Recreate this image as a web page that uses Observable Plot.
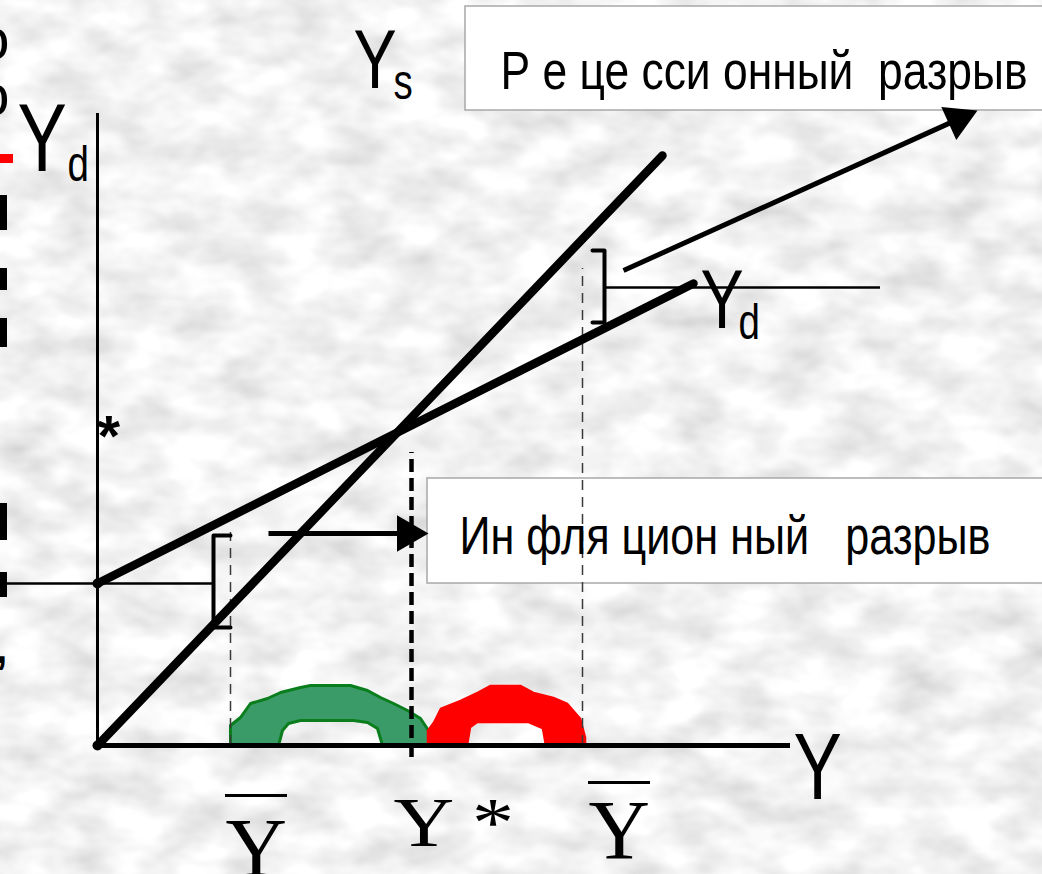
<!DOCTYPE html>
<html>
<head>
<meta charset="utf-8">
<script src="https://cdn.jsdelivr.net/npm/d3@7"></script>
<script src="https://cdn.jsdelivr.net/npm/@observablehq/plot@0.6"></script>
<style>
  html, body { margin: 0; padding: 0; background: #e4e4e4; overflow: hidden; }
  #chart svg { display: block; }
</style>
</head>
<body>
<div id="chart"></div>
<script>
// ---- Diagram data (economic coordinates: Y = output, E = expenditure) ----
const ysLine = [{Y: 0, E: 0}, {Y: 565, E: 590}];
const ydLine = [{Y: 0, E: 162}, {Y: 596, E: 462}];
const intercepts = [{Y: 0, E: 0}, {Y: 0, E: 162}];

const yBarLow = 133, yStar = 314, yBarHigh = 485;
const thinGuides = [{Y: yBarLow, E1: 0, E2: 213}, {Y: yBarHigh, E1: 0, E2: 477}];
const starGuide = [{Y: yStar, E1: -12, E2: 293}];

const brackets = [
  {id: "infl", Y: 133, E: 210}, {id: "infl", Y: 116, E: 210}, {id: "infl", Y: 116, E: 118}, {id: "infl", Y: 133, E: 118},
  {id: "rec", Y: 495, E: 495}, {id: "rec", Y: 507, E: 495}, {id: "rec", Y: 507, E: 423}, {id: "rec", Y: 495, E: 423}
];
const levelLeft = [{E: 162, Y1: -97, Y2: 116}];
const levelRight = [{E: 458, Y1: 507, Y2: 783}];

const arrows = [
  {name: "inflation", Y1: 171, E1: 212, Y2: 331, E2: 212},
  {name: "recession", Y1: 526, E1: 475, Y2: 880, E2: 635}
];

const boxes = [
  {name: "recession", Y1: 368, Y2: 950, E1: 635, E2: 739},
  {name: "inflation", Y1: 330, Y2: 950, E1: 162, E2: 267}
];
const boxLabels = [
  {name: "recession", text: "Р е це сси онный  разрыв", Y: 403, E: 657},
  {name: "inflation", text: "Ин фля цион ный   разрыв", Y: 362, E: 192}
];

const greenArc = [
  {Y:133,E:0},{Y:133,E:20},{Y:143,E:28},{Y:153,E:42},{Y:170,E:47},{Y:183,E:53},{Y:203,E:58},{Y:213,E:60},
  {Y:253,E:60},{Y:270,E:55},{Y:283,E:48},{Y:296,E:42},{Y:310,E:35},{Y:323,E:27},{Y:331,E:15},{Y:333,E:0},
  {Y:285,E:0},{Y:280,E:17},{Y:270,E:23},{Y:256,E:25},{Y:203,E:25},{Y:191,E:22},{Y:185,E:15},{Y:181,E:0}
];
const redArc = [
  {Y:330,E:0},{Y:330,E:15},{Y:336,E:23},{Y:343,E:37},{Y:363,E:45},{Y:380,E:53},{Y:393,E:60},{Y:423,E:60},
  {Y:436,E:53},{Y:456,E:48},{Y:470,E:42},{Y:483,E:27},{Y:488,E:8},{Y:488,E:0},
  {Y:448,E:0},{Y:445,E:17},{Y:431,E:23},{Y:380,E:23},{Y:373,E:18},{Y:370,E:0}
];

const sansLabels = [
  {text: "Y", Y: 256, E: 658, role: "big"},
  {text: "s", Y: 296, E: 647, role: "sub"},
  {text: "Y", Y: -80, E: 575, role: "huge"},
  {text: "d", Y: -30, E: 565, role: "sub"},
  {text: "Y", Y: 603, E: 418, role: "big"},
  {text: "d", Y: 641, E: 407, role: "sub"},
  {text: "Y", Y: 696, E: -53, role: "axis"}
];
const starMark = [{text: "*", Y: 0, E: 290}];
const serifBars = [
  {text: "Y", Y: 128, E: -131},
  {text: "Y", Y: 491, E: -113}
];
const serifStar = [{text: "Y *", Y: 296, E: -100}];
const overlines = [{E: -50, Y1: 128, Y2: 190}, {E: -37, Y1: 491, Y2: 553}];

// fragments of neighbouring slide text cut by the left edge
const edgeLetters = [{text: "о", E: 687}, {text: "о", E: 631}];
const edgeComma = [{text: ",", E: 83}];
const edgeBlocks = [
  {E1: 582, E2: 591, Y2: -84, c: "red"},
  {E1: 515, E2: 550, Y2: -90, c: "black"},
  {E1: 455, E2: 477, Y2: -90, c: "black"},
  {E1: 398, E2: 427, Y2: -90, c: "black"},
  {E1: 205, E2: 242, Y2: -90, c: "black"},
  {E1: 148, E2: 173, Y2: -90, c: "black"}
];

// ---- styles (kept apart from the data) ----
const fontSizes = {huge: 96, big: 84, sub: 50, axis: 94};
const boxTextWidth = {recession: 527, inflation: 531};
const boxFont = 53;
const SANS = "'Liberation Sans', Arial, sans-serif";
const SERIF = "'Liberation Serif', 'Times New Roman', serif";

// arrowhead placement (equilateral triangle symbol)
const headR = 13.5;
const headSize = Math.PI * headR * headR;
const tipDist = 2 * Math.sqrt(headSize / (3 * Math.sqrt(3)));
const heads = arrows.map(a => {
  const dx = a.Y2 - a.Y1, dy = a.E2 - a.E1, L = Math.hypot(dx, dy);
  return {Y: a.Y2 - dx / L * tipDist, E: a.E2 - dy / L * tipDist, rot: Math.atan2(-dy, dx) * 180 / Math.PI + 90};
});
const shafts = arrows.map(a => {
  const dx = a.Y2 - a.Y1, dy = a.E2 - a.E1, L = Math.hypot(dx, dy);
  return {...a, Y2: a.Y2 - dx / L * tipDist, E2: a.E2 - dy / L * tipDist};
});

const chart = Plot.plot({
  width: 1042,
  height: 874,
  margin: 0,
  style: {background: "#e4e4e4", overflow: "visible"},
  x: {domain: [-97, 945], range: [0, 1042], axis: null},
  y: {domain: [-129, 745], range: [874, 0], axis: null},
  marks: [
    Plot.rect(boxes, {x1: "Y1", x2: "Y2", y1: "E1", y2: "E2", fill: "white", stroke: "#a8a8a8", strokeWidth: 1.5}),
    Plot.rect(edgeBlocks, {x1: -97, x2: "Y2", y1: "E1", y2: "E2", fill: "c"}),
    Plot.line(greenArc, {x: "Y", y: "E", fill: "#3b9b68", stroke: "#0a7d1c", strokeWidth: 3, curve: "linear-closed"}),
    Plot.line(redArc, {x: "Y", y: "E", fill: "#ff0000", stroke: "#ff0000", strokeWidth: 1.5, curve: "linear-closed"}),
    Plot.ruleX(thinGuides, {x: "Y", y1: "E1", y2: "E2", stroke: "#3a3a3a", strokeWidth: 1.5, strokeDasharray: "10,7"}),
    Plot.ruleX(starGuide, {x: "Y", y1: "E1", y2: "E2", stroke: "black", strokeWidth: 4.5, strokeDasharray: "13,6"}),
    Plot.ruleX([0], {y1: 0, y2: 632, stroke: "black", strokeWidth: 3}),
    Plot.ruleY([0], {x1: 0, x2: 693, stroke: "black", strokeWidth: 5}),
    Plot.ruleY(levelLeft, {y: "E", x1: "Y1", x2: "Y2", stroke: "black", strokeWidth: 2.5}),
    Plot.ruleY(levelRight, {y: "E", x1: "Y1", x2: "Y2", stroke: "black", strokeWidth: 2.5}),
    Plot.line(brackets, {x: "Y", y: "E", z: "id", stroke: "black", strokeWidth: 4}),
    Plot.line(ysLine, {x: "Y", y: "E", stroke: "black", strokeWidth: 8.5, strokeLinecap: "round"}),
    Plot.line(ydLine, {x: "Y", y: "E", stroke: "black", strokeWidth: 8.5, strokeLinecap: "round"}),
    Plot.dot(intercepts, {x: "Y", y: "E", r: 5, fill: "black"}),
    Plot.link(shafts, {x1: "Y1", y1: "E1", x2: "Y2", y2: "E2", stroke: "black", strokeWidth: 5}),
    Plot.dot(heads, {x: "Y", y: "E", r: headR, symbol: "triangle", rotate: "rot", fill: "black"}),
    Plot.text(boxLabels, {x: "Y", y: "E", text: "text", fontSize: boxFont, textAnchor: "start", lineAnchor: "bottom", fill: "black", fontFamily: SANS, className: "boxlabel"}),
    Plot.text(sansLabels, {x: "Y", y: "E", text: "text", fontSize: d => fontSizes[d.role], textAnchor: "start", lineAnchor: "bottom", fill: "black", fontFamily: SANS, className: "narrow"}),
    Plot.text(starMark, {x: "Y", y: "E", text: "text", fontSize: 58, textAnchor: "start", lineAnchor: "bottom", fill: "black", fontWeight: "bold", fontFamily: SANS}),
    Plot.text(serifBars, {x: "Y", y: "E", text: "text", fontSize: 85, textAnchor: "start", lineAnchor: "bottom", fill: "black", fontFamily: SERIF}),
    Plot.text(serifStar, {x: "Y", y: "E", text: "text", fontSize: 70, textAnchor: "start", lineAnchor: "bottom", fill: "black", fontFamily: SERIF, className: "wide"}),
    Plot.ruleY(overlines, {y: "E", x1: "Y1", x2: "Y2", stroke: "black", strokeWidth: 3}),
    Plot.text(edgeLetters, {x: -88, y: "E", text: "text", fontSize: 58, textAnchor: "end", lineAnchor: "bottom", fill: "black", fontFamily: SANS}),
    Plot.text(edgeComma, {x: -90, y: "E", text: "text", fontSize: 44, textAnchor: "end", lineAnchor: "bottom", fill: "black", fontWeight: "bold", fontFamily: SANS})
  ]
});

// horizontal squeeze / stretch of glyphs to imitate the condensed typeface
function scaleText(selector, sx) {
  chart.querySelectorAll(selector).forEach(t => {
    const tr = t.getAttribute("transform") || "";
    t.setAttribute("transform", tr + ` scale(${sx},1)`);
  });
}
scaleText("g.narrow text", 0.77);
scaleText("g.wide text", 1.2);
chart.querySelectorAll("g.boxlabel text").forEach((t, i) => {
  t.setAttribute("textLength", boxTextWidth[boxLabels[i].name]);
  t.setAttribute("lengthAdjust", "spacingAndGlyphs");
});

// mottled grey paper texture behind the drawing
const ns = "http://www.w3.org/2000/svg";
const defs = document.createElementNS(ns, "defs");
defs.innerHTML = `<filter id="paper" x="0" y="0" width="100%" height="100%">
  <feTurbulence type="fractalNoise" baseFrequency="0.018 0.03" numOctaves="3" seed="7" result="n"/>
  <feColorMatrix in="n" type="matrix" values="0.55 0 0 0 0.62  0.55 0 0 0 0.62  0.55 0 0 0 0.62  0 0 0 0 1"/>
</filter>`;
const bg = document.createElementNS(ns, "rect");
bg.setAttribute("x", 0); bg.setAttribute("y", 0);
bg.setAttribute("width", 1042); bg.setAttribute("height", 874);
bg.setAttribute("filter", "url(#paper)");
chart.insertBefore(bg, chart.firstChild);
chart.insertBefore(defs, chart.firstChild);

document.getElementById("chart").appendChild(chart);
</script>
</body>
</html>
